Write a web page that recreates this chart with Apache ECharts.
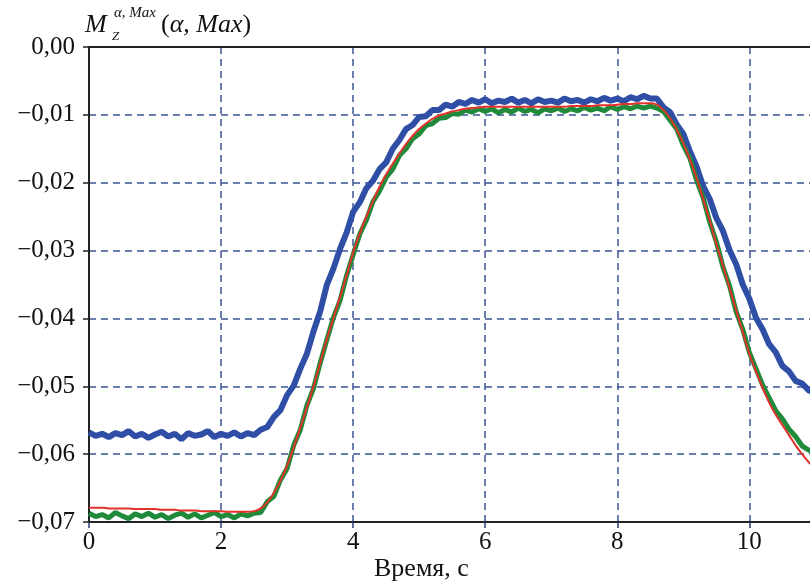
<!DOCTYPE html>
<html>
<head>
<meta charset="utf-8">
<script src="https://cdn.jsdelivr.net/npm/echarts@6/dist/echarts.min.js"></script>
<style>
  html, body { margin: 0; padding: 0; background: #fff; }
  #chart { width: 810px; height: 585px; }
</style>
</head>
<body>
<div id="chart"></div>
<script>
// время, с (шаг 0.1)
var times = [
    0.0, 0.1, 0.2, 0.3, 0.4, 0.5, 0.6, 0.7, 0.8, 0.9,
    1.0, 1.1, 1.2, 1.3, 1.4, 1.5, 1.6, 1.7, 1.8, 1.9,
    2.0, 2.1, 2.2, 2.3, 2.4, 2.5, 2.6, 2.7, 2.8, 2.9,
    3.0, 3.1, 3.2, 3.3, 3.4, 3.5, 3.6, 3.7, 3.8, 3.9,
    4.0, 4.1, 4.2, 4.3, 4.4, 4.5, 4.6, 4.7, 4.8, 4.9,
    5.0, 5.1, 5.2, 5.3, 5.4, 5.5, 5.6, 5.7, 5.8, 5.9,
    6.0, 6.1, 6.2, 6.3, 6.4, 6.5, 6.6, 6.7, 6.8, 6.9,
    7.0, 7.1, 7.2, 7.3, 7.4, 7.5, 7.6, 7.7, 7.8, 7.9,
    8.0, 8.1, 8.2, 8.3, 8.4, 8.5, 8.6, 8.7, 8.8, 8.9,
    9.0, 9.1, 9.2, 9.3, 9.4, 9.5, 9.6, 9.7, 9.8, 9.9,
    10.0, 10.1, 10.2, 10.3, 10.4, 10.5, 10.6, 10.7, 10.8, 10.9,
    11.0
];

// синяя кривая
var blueVals = [
    -0.0568, -0.0573, -0.0570, -0.0575, -0.0569, -0.0572, -0.0566, -0.0574, -0.0570, -0.0576,
    -0.0571, -0.0567, -0.0574, -0.0570, -0.0578, -0.0569, -0.0573, -0.0571, -0.0566, -0.0575,
    -0.0570, -0.0573, -0.0568, -0.0574, -0.0569, -0.0572, -0.0564, -0.0560, -0.0545, -0.0535,
    -0.0513, -0.0499, -0.0474, -0.0452, -0.0419, -0.0390, -0.0351, -0.0327, -0.0298, -0.0274,
    -0.0243, -0.0229, -0.0208, -0.0197, -0.0180, -0.0170, -0.0150, -0.0137, -0.0121, -0.0115,
    -0.0103, -0.0102, -0.0093, -0.0093, -0.0085, -0.0088, -0.0081, -0.0084, -0.0078, -0.0082,
    -0.0077, -0.0083, -0.0079, -0.0081, -0.0076, -0.0082, -0.0078, -0.0083, -0.0077, -0.0081,
    -0.0079, -0.0082, -0.0076, -0.0080, -0.0078, -0.0082, -0.0077, -0.0080, -0.0075, -0.0079,
    -0.0076, -0.0080, -0.0074, -0.0077, -0.0072, -0.0076, -0.0076, -0.0089, -0.0096, -0.0114,
    -0.0128, -0.0154, -0.0176, -0.0205, -0.0224, -0.0252, -0.0271, -0.0299, -0.0320, -0.0350,
    -0.0371, -0.0399, -0.0416, -0.0438, -0.0450, -0.0470, -0.0478, -0.0492, -0.0496, -0.0506,
    -0.0510
];

// зелёная кривая
var greenVals = [
    -0.0687, -0.0692, -0.0689, -0.0694, -0.0686, -0.0691, -0.0695, -0.0688, -0.0692, -0.0687,
    -0.0693, -0.0689, -0.0695, -0.0690, -0.0687, -0.0693, -0.0688, -0.0694, -0.0690, -0.0686,
    -0.0692, -0.0689, -0.0694, -0.0688, -0.0691, -0.0687, -0.0686, -0.0670, -0.0662, -0.0638,
    -0.0621, -0.0587, -0.0564, -0.0528, -0.0503, -0.0466, -0.0432, -0.0399, -0.0374, -0.0337,
    -0.0306, -0.0276, -0.0255, -0.0228, -0.0212, -0.0192, -0.0180, -0.0160, -0.0150, -0.0135,
    -0.0128, -0.0116, -0.0113, -0.0105, -0.0104, -0.0098, -0.0099, -0.0093, -0.0096, -0.0091,
    -0.0095, -0.0091, -0.0097, -0.0092, -0.0096, -0.0090, -0.0095, -0.0092, -0.0097, -0.0091,
    -0.0094, -0.0090, -0.0095, -0.0091, -0.0094, -0.0089, -0.0093, -0.0090, -0.0094, -0.0088,
    -0.0092, -0.0088, -0.0091, -0.0087, -0.0090, -0.0087, -0.0090, -0.0095, -0.0108, -0.0121,
    -0.0145, -0.0164, -0.0196, -0.0222, -0.0258, -0.0287, -0.0324, -0.0352, -0.0390, -0.0416,
    -0.0450, -0.0474, -0.0498, -0.0517, -0.0536, -0.0548, -0.0563, -0.0574, -0.0588, -0.0594,
    -0.0599
];

// красная (сглаженная) кривая
var redVals = [
    -0.0679, -0.0679, -0.0679, -0.0680, -0.0680, -0.0680, -0.0680, -0.0681, -0.0681, -0.0681,
    -0.0681, -0.0682, -0.0682, -0.0682, -0.0683, -0.0683, -0.0683, -0.0684, -0.0684, -0.0684,
    -0.0684, -0.0685, -0.0685, -0.0685, -0.0685, -0.0684, -0.0680, -0.0671, -0.0657, -0.0639,
    -0.0617, -0.0590, -0.0561, -0.0531, -0.0500, -0.0466, -0.0431, -0.0400, -0.0369, -0.0337,
    -0.0303, -0.0275, -0.0250, -0.0227, -0.0206, -0.0188, -0.0172, -0.0157, -0.0143, -0.0131,
    -0.0121, -0.0113, -0.0106, -0.0101, -0.0098, -0.0095, -0.0093, -0.0091, -0.0090, -0.0089,
    -0.0088, -0.0088, -0.0088, -0.0088, -0.0088, -0.0088, -0.0088, -0.0088, -0.0088, -0.0088,
    -0.0088, -0.0088, -0.0088, -0.0087, -0.0087, -0.0087, -0.0087, -0.0086, -0.0086, -0.0086,
    -0.0085, -0.0084, -0.0084, -0.0083, -0.0083, -0.0083, -0.0085, -0.0093, -0.0105, -0.0122,
    -0.0142, -0.0166, -0.0193, -0.0224, -0.0256, -0.0290, -0.0322, -0.0355, -0.0388, -0.0420,
    -0.0452, -0.0478, -0.0502, -0.0524, -0.0542, -0.0557, -0.0572, -0.0587, -0.0600, -0.0612,
    -0.0622
];

var xTicks = [0, 2, 4, 6, 8, 10];

function pairs(vals) {
    var out = [];
    for (var i = 0; i < times.length; i++) {
        out.push([times[i], vals[i]]);
    }
    return out;
}

var serif = '"Liberation Serif", "DejaVu Serif", serif';
var gridColor = '#3a5596';

var myChart = echarts.init(document.getElementById('chart'));

myChart.setOption({
    animation: false,
    backgroundColor: '#fff',
    grid: {
        left: 89,
        top: 47,
        width: 733,   // поле графика уходит за правый край
        height: 475,
        outerBoundsMode: 'none',
        containLabel: false
    },
    xAxis: [
        {
            type: 'value',
            min: 0,
            max: 11.1,
            interval: 2,
            axisLine: {show: true, onZero: false, lineStyle: {color: '#222', width: 2}},
            axisTick: {show: true, length: 6, lineStyle: {color: '#2a3f7a', width: 1.5}},
            axisLabel: {
                fontFamily: serif,
                fontSize: 25,
                color: '#111',
                margin: 8,
                formatter: function (v) {
                    return xTicks.indexOf(v) >= 0 ? String(v) : '';
                }
            },
            splitLine: {
                show: true,
                lineStyle: {color: gridColor, width: 1.5, type: [7, 5]}
            }
        },
        {
            type: 'value',
            position: 'top',
            min: 0,
            max: 11.1,
            axisLine: {show: true, onZero: false, lineStyle: {color: '#222', width: 2}},
            axisTick: {show: false},
            axisLabel: {show: false},
            splitLine: {show: false}
        }
    ],
    yAxis: {
        type: 'value',
        min: -0.07,
        max: 0,
        interval: 0.01,
        axisLine: {show: true, onZero: false, lineStyle: {color: '#222', width: 2}},
        axisTick: {show: true, length: 6, lineStyle: {color: '#222', width: 1.5}},
        axisLabel: {
            fontFamily: serif,
            fontSize: 25,
            color: '#111',
            margin: 14,
            formatter: function (v) {
                var s = Math.abs(v).toFixed(2).replace('.', ',');
                return (v < -1e-9 ? '\u2212' : '') + s;
            }
        },
        splitLine: {
            show: true,
            lineStyle: {color: gridColor, width: 1.5, type: [7, 5]}
        }
    },
    graphic: [
        {type: 'text', left: 85, top: 12, style: {text: 'M', font: 'italic 26px ' + serif, fill: '#111'}},
        {type: 'text', left: 114, top: 6, style: {text: '\u03b1, Max', font: 'italic 15px ' + serif, fill: '#111'}},
        {type: 'text', left: 112, top: 30, style: {text: 'Z', font: 'italic 13px ' + serif, fill: '#111'}},
        {
            type: 'text', left: 161, top: 12,
            style: {
                text: '{n|(}{i|\u03b1, Max}{n|)}',
                rich: {
                    n: {font: '26px ' + serif, fill: '#111'},
                    i: {font: 'italic 26px ' + serif, fill: '#111'}
                }
            }
        },
        {type: 'text', left: 374, top: 556, style: {text: 'Время, с', font: '26px ' + serif, fill: '#111'}}
    ],
    series: [
        {
            name: 'blue',
            type: 'line',
            symbol: 'none',
            data: pairs(blueVals),
            lineStyle: {color: '#2f4fa6', width: 6},
            z: 2
        },
        {
            name: 'green',
            type: 'line',
            symbol: 'none',
            data: pairs(greenVals),
            lineStyle: {color: '#1e8a3a', width: 5},
            z: 3
        },
        {
            name: 'red',
            type: 'line',
            symbol: 'none',
            smooth: true,
            data: pairs(redVals),
            lineStyle: {color: '#e3322b', width: 2},
            z: 4
        }
    ]
});
</script>
</body>
</html>
